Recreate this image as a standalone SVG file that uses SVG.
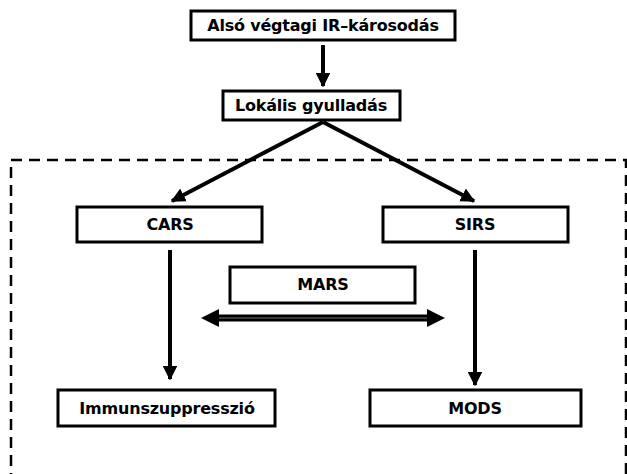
<svg xmlns="http://www.w3.org/2000/svg" width="627" height="474" viewBox="0 0 627 474">
<style>
.box{fill:#fff;stroke:#000;stroke-width:3}
.t{font-family:"DejaVu Sans",sans-serif;font-weight:bold;font-size:16px;text-anchor:middle;fill:#000;letter-spacing:-0.2px}
.c{stroke:#000;stroke-width:4;fill:none}
</style>
<defs>
<marker id="ah" viewBox="0 0 10 10" refX="9" refY="5" markerWidth="3.6" markerHeight="3.6" orient="auto-start-reverse" markerUnits="strokeWidth">
<path d="M0,0 L10,5 L0,10 z" fill="#000"/>
</marker>
</defs>
<rect x="11" y="160" width="615" height="330" fill="none" stroke="#000" stroke-width="2.5" stroke-dasharray="11,7"/>
<g id="connectors">
<line class="c" x1="323" y1="45" x2="323" y2="86" marker-end="url(#ah)"/>
<line class="c" x1="323" y1="122" x2="172" y2="201" marker-end="url(#ah)"/>
<line class="c" x1="323" y1="122" x2="474" y2="201" marker-end="url(#ah)"/>
<line class="c" x1="170" y1="250" x2="170" y2="379" marker-end="url(#ah)"/>
<line class="c" x1="475" y1="250" x2="475" y2="385" marker-end="url(#ah)"/>
<line stroke="#000" stroke-width="7" x1="215" y1="318" x2="430" y2="318"/>
<line stroke="#777" stroke-width="1.2" x1="215" y1="318" x2="430" y2="318"/>
<path d="M201,318 L219,309 L219,327 z" fill="#000"/>
<path d="M445,318 L427,309 L427,327 z" fill="#000"/>
</g>
<g id="n1"><rect class="box" x="191" y="11" width="264" height="29"/><text class="t" x="323" y="31">Alsó végtagi IR–károsodás</text></g>
<g id="n2"><rect class="box" x="223" y="91" width="177" height="29"/><text class="t" x="311" y="111">Lokális gyulladás</text></g>
<g id="n3"><rect class="box" x="77" y="207" width="185" height="35"/><text class="t" x="170" y="230">CARS</text></g>
<g id="n4"><rect class="box" x="383" y="207" width="185" height="35"/><text class="t" x="475" y="230">SIRS</text></g>
<g id="n5"><rect class="box" x="230" y="267" width="185" height="36"/><text class="t" x="323" y="290">MARS</text></g>
<g id="n6"><rect class="box" x="58" y="390" width="217" height="36"/><text class="t" x="167" y="414">Immunszuppresszió</text></g>
<g id="n7"><rect class="box" x="370" y="390" width="211" height="36"/><text class="t" x="475" y="414">MODS</text></g>
</svg>
